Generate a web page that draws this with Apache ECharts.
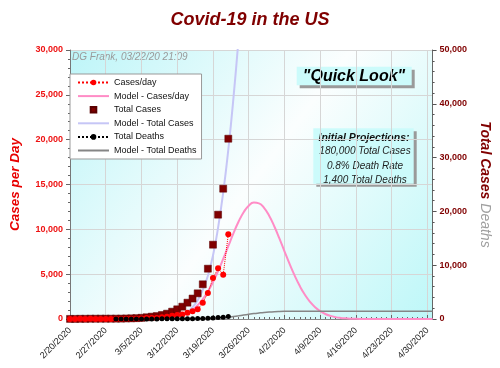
<!DOCTYPE html>
<html><head><meta charset="utf-8">
<script src="https://cdn.jsdelivr.net/npm/echarts@6/dist/echarts.min.js"></script>
<style>html,body{margin:0;padding:0;background:#fff}#c{width:500px;height:368px}</style>
</head><body><div id="c"></div>
<script>
// x = day index, day 0 = 2/20/2020
const tickLabels = ['2/20/2020','2/27/2020','3/5/2020','3/12/2020','3/19/2020','3/26/2020','4/2/2020','4/9/2020','4/16/2020','4/23/2020','4/30/2020'];
const casesPerDay = [0,0,20,0,18,0,6,1,2,6,7,25,25,35,60,100,120,110,200,250,370,440,500,700,860,1080,1820,2900,4570,5650,4940,9450];
const totalCases = [15,15,35,35,53,53,59,60,62,68,75,100,124,158,221,319,435,541,740,990,1360,1800,2290,3030,3800,4770,6450,9350,13810,19390,24220,33510];
const deathsStartDay = 9;
const totalDeaths = [1,1,6,9,11,12,15,19,22,26,30,38,41,48,57,69,86,108,150,200,260,340,450];
const modelCasesPerDay = [0,0,0,0,0,0,0,0,0,0,0,0,0,
  1,3,6,13,25,48,87,153,260,426,676,1040,1540,2210,3060,4110,5340,6700,8130,9550,10840,11900,12640,12980,12890,12390,11510,10340,8990,7550,6140,4830,3670,2700,1920,1320,880,560,350,210,120,70,38,20,10,5,2,1,
  0,0,0,0,0,0,0,0,0,0,0];
const modelTotalCases = [0,0,0,0,0,0,0,0,0,0,0,1,1,
  2,4,8,18,38,74,140,259,464,805,1355,2207,3492,5382,8028,11800,
  17000,23500,31500,41000,52000,63500,75000,87000,99000,112000,124000,135000,
  145000,153000,160000,165500,170000,173000,175500,177000,178200,178900,179300,179600,179800,179900,179950,
  180000,180000,180000,180000,180000,180000,180000,180000,180000,180000,180000,180000,180000,180000,180000,180000];
const modelTotalDeaths = [0,0,0,0,0,0,0,0,0,0,0,0,0,0,0,0,0,1,2,3,
  5,8,12,18,28,42,62,92,135,190,250,350,470,600,740,880,1010,1120,1220,1300,1360,1400,1425,1435,1440,
  1440,1440,1440,1440,1440,1440,1440,1440,1440,1440,1440,1440,1440,1440,1440,1440,1440,1440,1440,1440,1440,1440,1440,1440,1440,1440,1440];

const toXY = (arr, start) => arr.map((v, i) => [(start || 0) + i, v]);
const FF = '"Liberation Sans", Arial, sans-serif';
const chart = echarts.init(document.getElementById('c'), null, {renderer: 'canvas'});
const fmt = v => String(v).replace(/\B(?=(\d{3})+(?!\d))/g, ',');
const txt = (x, y, text, size, opts) => Object.assign({
  type: 'text', x: x, y: y,
  style: Object.assign({text: text, fontFamily: FF, fontSize: size, fontStyle: 'italic', fontWeight: 'normal',
    fill: '#222', align: 'center', verticalAlign: 'middle'}, opts || {})
});

chart.setOption({
  animation: false,
  textStyle: {fontFamily: FF},
  title: {
    text: 'Covid-19 in the US', left: 'center', top: 11, padding: 0,
    textStyle: {fontFamily: FF, fontSize: 18, fontWeight: 'bold', fontStyle: 'italic', color: '#800000'}
  },
  grid: {
    left: 64, right: 58, top: 50, bottom: 49, show: true, borderWidth: 0,
    backgroundColor: new echarts.graphic.LinearGradient(0, 0, 1, 1, [
      {offset: 0, color: '#bdf5f8'}, {offset: 0.5, color: '#fbfefe'}, {offset: 1, color: '#bdf7f8'}
    ])
  },
  legend: {
    orient: 'vertical', left: 70, top: 74,
    padding: [4, 5, 4, 7], itemGap: 4.6, itemWidth: 31, itemHeight: 7,
    backgroundColor: '#ffffff', borderColor: '#999', borderWidth: 1, borderRadius: 0,
    textStyle: {fontFamily: FF, fontSize: 9, color: '#111', lineHeight: 9},
    data: [
      {name: 'Cases/day'},
      {name: 'Model - Cases/day', itemStyle: {opacity: 0}},
      {name: 'Total Cases'},
      {name: 'Model - Total Cases', itemStyle: {opacity: 0}},
      {name: 'Total Deaths'},
      {name: 'Model - Total Deaths', itemStyle: {opacity: 0}}
    ]
  },
  xAxis: {
    type: 'value', min: 0, max: 71, interval: 7,
    axisLine: {show: true, lineStyle: {color: '#888', width: 1}},
    axisTick: {show: true, inside: true, length: 4, lineStyle: {color: '#666'}},
    minorTick: {show: true, splitNumber: 7, length: 2, lineStyle: {color: '#666'}},
    splitLine: {show: true, lineStyle: {color: '#d6d6d6', width: 1}},
    axisLabel: {
      rotate: 45, margin: 10, fontSize: 9, color: '#222', fontFamily: FF,
      formatter: v => (v % 7 === 0 && tickLabels[v / 7]) ? tickLabels[v / 7] : ''
    }
  },
  yAxis: [{
    type: 'value', min: 0, max: 30000, interval: 5000, position: 'left',
    name: 'Cases per Day', nameLocation: 'middle', nameGap: 48,
    nameTextStyle: {fontFamily: FF, fontSize: 13.5, fontWeight: 'bold', fontStyle: 'italic', color: '#e80000'},
    axisLine: {show: true, lineStyle: {color: '#777'}},
    axisTick: {show: true, length: 4, lineStyle: {color: '#666'}},
    minorTick: {show: true, splitNumber: 5, length: 2, lineStyle: {color: '#666'}},
    splitLine: {show: true, lineStyle: {color: '#d6d6d6'}},
    axisLabel: {margin: 7, fontSize: 9, fontWeight: 'bold', color: '#ee1111', fontFamily: FF, formatter: fmt}
  }, {
    type: 'value', min: 0, max: 50000, interval: 10000, position: 'right',
    name: '{a|Total Cases} {b|Deaths}', nameLocation: 'middle', nameGap: 38, nameRotate: -90,
    nameTextStyle: {
      fontFamily: FF, fontSize: 14,
      rich: {
        a: {fontFamily: FF, fontSize: 14, fontWeight: 'bold', fontStyle: 'italic', color: '#800000'},
        b: {fontFamily: FF, fontSize: 14, fontStyle: 'italic', color: '#a0a0a0'}
      }
    },
    axisLine: {show: true, lineStyle: {color: '#666'}},
    axisTick: {show: true, length: 4, lineStyle: {color: '#555'}},
    minorTick: {show: true, splitNumber: 5, length: 2, lineStyle: {color: '#555'}},
    splitLine: {show: false},
    axisLabel: {margin: 7, fontSize: 9, fontWeight: 'bold', color: '#800000', fontFamily: FF, formatter: fmt}
  }],
  graphic: [
    txt(72, 57, 'DG Frank, 03/22/20 21:09', 10, {fill: '#9a9a9a', align: 'left'}),
    {type: 'rect', shape: {x: 299.7, y: 69.7, width: 115, height: 18.5}, style: {fill: '#9a9a9a'}},
    {type: 'rect', shape: {x: 296.7, y: 66.7, width: 115, height: 18.5}, style: {fill: '#ccfbfb'}},
    txt(354, 76.5, '"Quick Look"', 16, {fontWeight: 'bold', fill: '#000'}),
    {type: 'rect', shape: {x: 316.3, y: 131.3, width: 100.4, height: 55.4}, style: {fill: '#9a9a9a'}},
    {type: 'rect', shape: {x: 313.3, y: 128.3, width: 100.4, height: 55.4}, style: {fill: '#ccfbfb'}},
    txt(364, 137.7, 'Initial Projections:', 10.5, {fontWeight: 'bold', fill: '#111'}),
    txt(365, 151.5, '180,000 Total Cases', 10),
    txt(365, 166, '0.8% Death Rate', 10),
    txt(365, 180.5, '1,400 Total Deaths', 10)
  ],
  series: [
    {name: 'Model - Cases/day', type: 'line', yAxisIndex: 0, symbol: 'none', smooth: true,
     lineStyle: {color: '#ff8cc6', width: 2}, itemStyle: {color: '#ff8cc6'}, data: toXY(modelCasesPerDay, 0)},
    {name: 'Model - Total Cases', type: 'line', yAxisIndex: 1, symbol: 'none', smooth: true, clip: true,
     lineStyle: {color: '#c6c6f6', width: 2}, itemStyle: {color: '#c6c6f6'}, data: toXY(modelTotalCases, 0)},
    {name: 'Model - Total Deaths', type: 'line', yAxisIndex: 1, symbol: 'none', smooth: true,
     lineStyle: {color: '#858585', width: 1.5}, itemStyle: {color: '#858585'}, data: toXY(modelTotalDeaths, 0)},
    {name: 'Total Cases', type: 'line', yAxisIndex: 1, symbol: 'rect', symbolSize: 7, showSymbol: true,
     lineStyle: {width: 0, opacity: 0}, itemStyle: {color: '#800000', borderColor: '#5a0000', borderWidth: 0.5},
     data: toXY(totalCases, 0)},
    {name: 'Cases/day', type: 'line', yAxisIndex: 0, symbol: 'circle', symbolSize: 6, showSymbol: true,
     lineStyle: {color: '#ff0000', width: 1, type: 'dotted'}, itemStyle: {color: '#ff0000'}, data: toXY(casesPerDay, 0)},
    {name: 'Total Deaths', type: 'line', yAxisIndex: 1, symbol: 'circle', symbolSize: 5, showSymbol: true,
     lineStyle: {color: '#000', width: 1, type: 'dotted'}, itemStyle: {color: '#000'}, data: toXY(totalDeaths, deathsStartDay)}
  ]
});
</script>
</body></html>
